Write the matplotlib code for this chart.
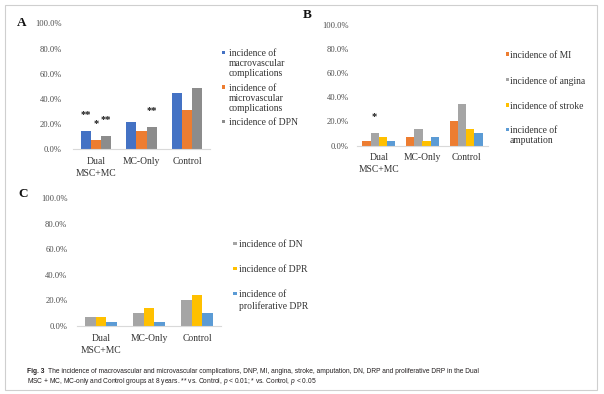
import numpy as np
import matplotlib
matplotlib.use("Agg")
import matplotlib.pyplot as plt
from matplotlib.patches import Rectangle

# values (percent of patients)
groups = ["Dual\nMSC+MC", "MC-Only", "Control"]
y_ticks = [0, 20, 40, 60, 80, 100]

a_names = ["incidence of\nmacrovascular\ncomplications",
           "incidence of\nmicrovascular\ncomplications",
           "incidence of DPN"]
a_macro = [14.3, 21.4, 44.8]
a_micro = [7.1, 14.3, 31.0]
a_dpn = [10.7, 17.9, 48.3]
a_stars = [(0, 0, "**"), (0, 1, "*"), (0, 2, "**"), (1, 2, "**")]

b_names = ["incidence of MI", "incidence of angina",
           "incidence of stroke", "incidence of\namputation"]
b_mi = [3.4, 6.9, 20.7]
b_angina = [10.3, 13.8, 34.5]
b_stroke = [6.9, 3.4, 13.8]
b_amput = [3.4, 6.9, 10.3]
b_stars = [(0, 1, "*")]

c_names = ["incidence of DN", "incidence of DPR",
           "incidence of\nproliferative DPR"]
c_dn = [6.9, 10.3, 20.7]
c_dpr = [6.9, 13.8, 24.1]
c_pdpr = [3.4, 3.4, 10.3]

cap1 = ("The incidence of macrovascular and microvascular complications, DNP, MI, "
        "angina, stroke, amputation, DN, DRP and proliferative DRP in the Dual")
cap2 = ("MSC + MC, MC-only and Control groups at 8 years. ** vs. Control, "
        "$p$ < 0.01; * vs. Control, $p$ < 0.05")

BLUE = "#4472C4"
ORANGE = "#ED7D31"
DGRAY = "#8C8C8C"
GRAY = "#A5A5A5"
YELLOW = "#FFC000"
LBLUE = "#5B9BD5"

W, H = 604, 394
plt.rcParams['font.family'] = ['Liberation Serif', 'DejaVu Serif']
plt.rcParams['mathtext.fontset'] = 'custom'
plt.rcParams['mathtext.it'] = 'Liberation Sans:italic'
plt.rcParams['mathtext.rm'] = 'Liberation Sans'

fig = plt.figure(figsize=(W / 100, H / 100), dpi=100)


def px_axes(x0, top, x1, bottom):
    # axes from pixel box (top = 100 %, bottom = 0 %)
    return fig.add_axes([x0 / W, 1 - bottom / H, (x1 - x0) / W, (bottom - top) / H])


def panel(ax, series, colors, width, ypad, stars=()):
    n = len(series)
    x = np.arange(len(groups))
    offs = [(i - (n - 1) / 2) * width for i in range(n)]
    for vals, col, o in zip(series, colors, offs):
        ax.bar(x + o, vals, width, color=col, linewidth=0)
    for g, s, txt in stars:
        ax.annotate(txt, (x[g] + offs[s], series[s][g]), xytext=(0, 12),
                    textcoords='offset points', ha='center', va='center',
                    fontsize=7.5, fontweight='bold', color='#1a1a1a')
    ax.set_xlim(-0.5, len(groups) - 0.5)
    ax.set_ylim(0, 100)
    ax.set_yticks(y_ticks)
    ax.set_yticklabels([f"{v:.1f}%" for v in y_ticks])
    ax.set_xticks(x)
    ax.set_xticklabels(groups)
    for lab in ax.get_xticklabels():
        lab.set_linespacing(1.45)
    ax.tick_params(axis='y', length=0, pad=ypad, labelsize=6.1, labelcolor='#4d4d4d')
    ax.tick_params(axis='x', length=0, pad=5.5, labelsize=6.9, labelcolor='#333333')
    for s in ['left', 'right', 'top']:
        ax.spines[s].set_visible(False)
    ax.spines['bottom'].set_color('#D9D9D9')
    ax.spines['bottom'].set_linewidth(0.8)
    ax.patch.set_alpha(0)


def side_legend(names, colors, x_mark, x_text, rows, spacing):
    # rows: vertical centre (px) of the first text line of each entry
    for name, col, y in zip(names, colors, rows):
        fig.add_artist(Rectangle((x_mark / W, 1 - (y + 1.7) / H), 3.4 / W, 3.4 / H,
                                 transform=fig.transFigure, color=col, lw=0))
        fig.text(x_text / W, 1 - (y - 3.4) / H, name, fontsize=6.9, color='#333333',
                 va='top', linespacing=spacing)


def letter(x, y, s):
    fig.text(x / W, 1 - y / H, s, fontsize=9.5, fontweight='bold',
             ha='center', va='center', color='#111111')


# panel A
axA = px_axes(73, 23.3, 210, 149.3)
panel(axA, [a_macro, a_micro, a_dpn], [BLUE, ORANGE, DGRAY], 0.22, 8, a_stars)
side_legend(a_names, [BLUE, ORANGE, DGRAY], 222, 229, [52.7, 87, 121.7], 1.15)
letter(22, 23.5, "A")

# panel B
axB = px_axes(357, 25, 488, 145.5)
panel(axB, [b_mi, b_angina, b_stroke, b_amput], [ORANGE, GRAY, YELLOW, LBLUE], 0.19, 6, b_stars)
side_legend(b_names, [ORANGE, GRAY, YELLOW, LBLUE], 505.5, 509.5, [54, 79.5, 105, 129.5], 1.2)
letter(307.5, 15.5, "B")

# panel C
axC = px_axes(77, 198.3, 221, 326)
panel(axC, [c_dn, c_dpr, c_pdpr], [GRAY, YELLOW, LBLUE], 0.22, 7)
side_legend(c_names, [GRAY, YELLOW, LBLUE], 233.3, 239.3, [243.3, 268.3, 293.3], 1.27)
letter(23.3, 194, "C")

# caption, sized so that the first line spans the same width as the original
r = fig.canvas.get_renderer()
cap_kw = dict(family='Liberation Sans', color='#231F20', va='center_baseline')
t0 = fig.text(27 / W, 1 - 370.7 / H, "Fig. 3", fontweight='bold', fontsize=4.5, **cap_kw)
t1 = fig.text(0, 1 - 370.7 / H, cap1, fontsize=4.5, **cap_kw)
t2 = fig.text(27 / W, 1 - 379.3 / H, cap2, fontsize=4.5, **cap_kw)
w_tot = t0.get_window_extent(r).width + 4 + t1.get_window_extent(r).width
size = 4.5 * 453 / w_tot
for t in (t0, t1, t2):
    t.set_fontsize(size)
w0 = t0.get_window_extent(r).width
t1.set_x((27 + w0 + 3.5) / W)

# light frame around the whole figure
fig.add_artist(Rectangle((5 / W, 1 - 390 / H), 592 / W, 385 / H, fill=False,
                         ec='#CFCFCF', lw=0.8, transform=fig.transFigure))

fig.savefig("out.png", dpi=100)
